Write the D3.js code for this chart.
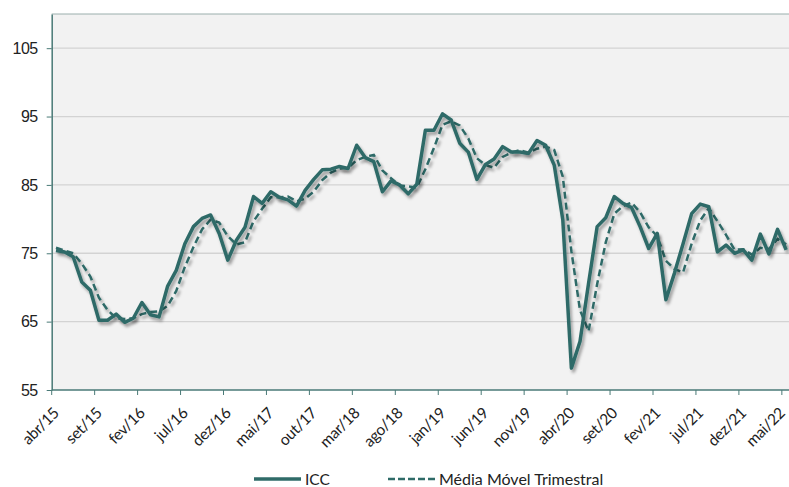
<!DOCTYPE html>
<html>
<head>
<meta charset="utf-8">
<script src="https://cdn.jsdelivr.net/npm/d3@7"></script>
<style>
  body { margin: 0; background: #fff; }
  svg { display: block; font-family: Lato, "Open Sans", sans-serif; }
</style>
</head>
<body>
<svg id="chart" width="789" height="487"></svg>
<script>
'use strict';
// month names used for the category labels
const monthNames = ["jan","fev","mar","abr","mai","jun","jul","ago","set","out","nov","dez"];

// ICC, monthly, abr/15 .. mai/22
const icc = [
  75.4, 75.2, 74.5, 70.8, 69.6, 65.2, 65.2, 66.1, 64.9, 65.5,
  67.8, 66.0, 65.7, 70.2, 72.5, 76.4, 78.9, 80.1, 80.6, 77.9,
  74.0, 76.9, 78.8, 83.3, 82.3, 84.0, 83.2, 82.8, 81.9, 84.2,
  85.8, 87.2, 87.3, 87.7, 87.4, 90.8, 89.0, 88.4, 84.0, 85.6,
  85.0, 83.7, 85.1, 93.0, 93.0, 95.4, 94.5, 91.1, 89.8, 85.8,
  88.0, 88.8, 90.6, 89.8, 89.8, 89.6, 91.5, 90.8, 87.9, 79.9,
  58.2, 62.1, 70.6, 78.9, 80.2, 83.3, 82.3, 81.7, 78.9, 75.7,
  77.9, 68.2, 72.1, 76.4, 80.8, 82.2, 81.8, 75.2, 76.2, 75.0,
  75.5, 74.0, 77.8, 74.9, 78.5, 75.5
];

// Média Móvel Trimestral
const mediaMovel = [
  75.8, 75.4, 75.0, 73.5, 71.6, 68.5, 66.7, 65.5, 65.4, 65.5,
  66.1, 66.4, 66.5, 67.3, 69.5, 73.0, 75.9, 78.5, 79.9, 79.5,
  77.5, 76.3, 76.6, 79.7, 81.5, 83.2, 83.2, 83.3, 82.6, 83.0,
  84.0, 85.7, 86.8, 87.4, 87.5, 88.6, 89.1, 89.4, 87.1, 86.0,
  84.9, 84.8, 84.6, 87.3, 90.4, 93.8, 94.3, 93.7, 91.8, 88.9,
  87.9, 87.5, 89.1, 89.7, 90.1, 89.7, 90.3, 90.6, 90.1, 86.2,
  75.3, 66.7, 63.6, 70.5, 76.6, 80.8, 81.9, 82.4, 81.0, 78.8,
  77.5, 73.9, 72.7, 72.2, 76.4, 79.8, 81.6, 79.7, 77.7, 75.5,
  75.6, 74.8, 75.8, 75.6, 77.1, 76.3
];

const yTicks = [55, 65, 75, 85, 95, 105];

// categories: abr/15 onwards, one per value
const months = icc.map((v, i) => {
  const m = (3 + i) % 12;
  const yr = 15 + Math.floor((3 + i) / 12);
  return monthNames[m] + "/" + yr;
});

const lineColor = "#2f6b68";
const axisColor = "#4a7a77";

const svg = d3.select("#chart");
const plotLeft = 51.7, plotTop = 14, plotBottom = 390;
const bandW = 8.59;

const x = d3.scaleBand()
  .domain(months)
  .range([plotLeft, plotLeft + bandW * months.length])
  .paddingInner(0).paddingOuter(0);

const y = d3.scaleLinear()
  .domain([55, 110])
  .range([plotBottom, plotTop]);

const cx = d => x(d) + x.bandwidth() / 2;

// shadow for the lines
const defs = svg.append("defs");
const f = defs.append("filter").attr("id", "shadow")
  .attr("x", "-5%").attr("y", "-5%").attr("width", "110%").attr("height", "110%");
f.append("feDropShadow")
  .attr("dx", 2).attr("dy", 3).attr("stdDeviation", 1.5)
  .attr("flood-color", "#000").attr("flood-opacity", 0.35);

// plot background
svg.append("rect")
  .attr("x", plotLeft).attr("y", plotTop)
  .attr("width", x.range()[1] - plotLeft).attr("height", plotBottom - plotTop)
  .attr("fill", "#f2f2f2");

svg.append("line")
  .attr("x1", plotLeft).attr("x2", 789)
  .attr("y1", plotTop).attr("y2", plotTop)
  .attr("stroke", "#9aaeac").attr("stroke-width", 1);

// gridlines
svg.append("g")
  .selectAll("line")
  .data(yTicks.filter(t => t > 55))
  .join("line")
  .attr("x1", plotLeft).attr("x2", 789)
  .attr("y1", d => y(d)).attr("y2", d => y(d))
  .attr("stroke", "#d3d3d3").attr("stroke-width", 1.3);

// y axis
const yAxis = svg.append("g")
  .attr("transform", `translate(${plotLeft},0)`)
  .call(d3.axisLeft(y).tickValues(yTicks).tickSize(5).tickPadding(9).tickSizeOuter(0));
yAxis.select(".domain").attr("stroke", axisColor).attr("stroke-width", 1.5);
yAxis.selectAll(".tick line").attr("stroke", axisColor);
yAxis.selectAll("text")
  .attr("font-size", 16).attr("fill", "#222")
  .style("letter-spacing", "-0.5px");

// x axis: ticks at category boundaries every 5 months
const tickCats = months.filter((d, i) => i % 5 === 0);
const xAxis = svg.append("g")
  .attr("transform", `translate(0,${plotBottom})`);
xAxis.append("line")
  .attr("x1", plotLeft).attr("x2", 789)
  .attr("stroke", axisColor).attr("stroke-width", 1.5);
xAxis.selectAll(".tk")
  .data(tickCats)
  .join("line")
  .attr("class", "tk")
  .attr("x1", d => x(d)).attr("x2", d => x(d))
  .attr("y1", 0).attr("y2", 5)
  .attr("stroke", axisColor);
xAxis.selectAll(".lbl")
  .data(tickCats)
  .join("text")
  .attr("class", "lbl")
  .attr("text-anchor", "end")
  .attr("font-size", 15.5)
  .attr("fill", "#222")
  .style("letter-spacing", "-0.3px")
  .attr("transform", d => `translate(${Math.min(cx(d) + 4, 786)},${24}) rotate(-45)`)
  .text(d => d);

// lines
const line = d3.line()
  .x((d, i) => cx(months[i]))
  .y(d => y(d));

svg.append("path")
  .datum(mediaMovel)
  .attr("fill", "none")
  .attr("stroke", lineColor)
  .attr("stroke-width", 2.5)
  .attr("stroke-dasharray", "7,4")
  .attr("filter", "url(#shadow)")
  .attr("d", line);

svg.append("path")
  .datum(icc)
  .attr("fill", "none")
  .attr("stroke", lineColor)
  .attr("stroke-width", 3.5)
  .attr("stroke-linejoin", "round")
  .attr("filter", "url(#shadow)")
  .attr("d", line);

// legend
const legend = svg.append("g").attr("transform", "translate(0,479)");
legend.append("line")
  .attr("x1", 254).attr("x2", 301)
  .attr("stroke", lineColor).attr("stroke-width", 3.5);
legend.append("text")
  .attr("x", 305).attr("y", 5.5)
  .attr("font-size", 15.5).attr("fill", "#222")
  .text("ICC");
legend.append("line")
  .attr("x1", 388).attr("x2", 435)
  .attr("stroke", lineColor).attr("stroke-width", 2.5)
  .attr("stroke-dasharray", "7,3");
legend.append("text")
  .attr("x", 439).attr("y", 5.5)
  .attr("font-size", 16).attr("fill", "#222")
  .text("Média Móvel Trimestral");
</script>
</body>
</html>
